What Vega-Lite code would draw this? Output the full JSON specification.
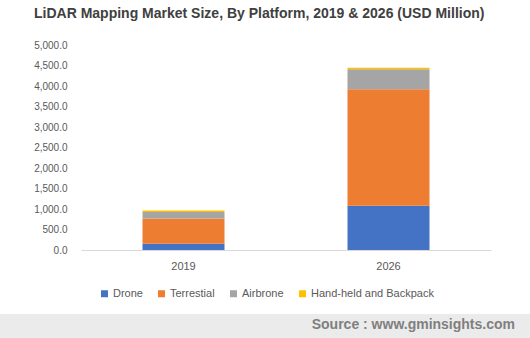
{
  "$schema": "https://vega.github.io/schema/vega-lite/v6.json",
  "background": "white",
  "padding": {"left": 0, "right": 0, "top": 7, "bottom": 0},
  "title": {
    "text": "LiDAR Mapping Market Size, By Platform, 2019 & 2026 (USD Million)",
    "anchor": "start",
    "dx": 34,
    "offset": 19,
    "font": "Liberation Sans",
    "fontSize": 14,
    "fontWeight": "bold",
    "color": "#404040"
  },
  "spacing": 15,
  "vconcat": [
    {
      "bounds": "flush",
      "spacing": 0,
      "resolve": {"scale": {"color": "independent"}, "legend": {"color": "independent"}},
      "hconcat": [
        {
          "width": 81,
          "height": 205,
          "data": {"values": []},
          "mark": "point"
        },
        {
          "width": 410,
          "height": 205,
          "data": {
            "values": [
              {"year": "2019", "platform": "Drone", "rank": 1, "value": 155},
              {"year": "2019", "platform": "Terrestial", "rank": 2, "value": 612},
              {"year": "2019", "platform": "Airbrone", "rank": 3, "value": 162},
              {"year": "2019", "platform": "Hand-held and Backpack", "rank": 4, "value": 32},
              {"year": "2026", "platform": "Drone", "rank": 1, "value": 1080},
              {"year": "2026", "platform": "Terrestial", "rank": 2, "value": 2840},
              {"year": "2026", "platform": "Airbrone", "rank": 3, "value": 490},
              {"year": "2026", "platform": "Hand-held and Backpack", "rank": 4, "value": 34}
            ]
          },
          "mark": {"type": "bar"},
          "encoding": {
            "x": {
              "field": "year",
              "type": "nominal",
              "scale": {"paddingInner": 0.6, "paddingOuter": 0.3},
              "axis": {
                "title": null,
                "labelAngle": 0,
                "ticks": false,
                "domainColor": "#d9d9d9",
                "domainWidth": 1,
                "labelColor": "#595959",
                "labelFont": "Liberation Sans",
                "labelFontSize": 11,
                "labelPadding": 10
              }
            },
            "y": {
              "field": "value",
              "type": "quantitative",
              "stack": "zero",
              "scale": {"domain": [0, 5000], "nice": false},
              "axis": {
                "title": null,
                "values": [0, 500, 1000, 1500, 2000, 2500, 3000, 3500, 4000, 4500, 5000],
                "format": ",.1f",
                "grid": false,
                "domain": false,
                "ticks": false,
                "labelColor": "#595959",
                "labelFont": "Liberation Sans",
                "labelFontSize": 10,
                "labelPadding": 14
              }
            },
            "order": {"field": "rank", "type": "quantitative", "sort": "ascending"},
            "color": {
              "field": "platform",
              "type": "nominal",
              "sort": ["Drone", "Terrestial", "Airbrone", "Hand-held and Backpack"],
              "scale": {
                "domain": ["Drone", "Terrestial", "Airbrone", "Hand-held and Backpack"],
                "range": ["#4472c4", "#ed7d31", "#a5a5a5", "#ffc000"]
              },
              "legend": {
                "title": null,
                "orient": "none",
                "direction": "horizontal",
                "legendX": 18,
                "legendY": 243,
                "padding": 0,
                "symbolType": "square",
                "symbolSize": 49,
                "symbolStrokeWidth": 0,
                "labelOffset": 3,
                "columnPadding": 13,
                "labelFont": "Liberation Sans",
                "labelFontSize": 11,
                "labelColor": "#595959"
              }
            }
          }
        }
      ]
    },
    {
      "width": 530,
      "height": 26,
      "view": {"fill": "#ebebeb", "stroke": null},
      "title": {
        "text": "Source : www.gminsights.com",
        "orient": "bottom",
        "anchor": "end",
        "offset": -22,
        "dx": -15,
        "font": "Liberation Sans",
        "fontSize": 14,
        "fontWeight": "bold",
        "color": "#7f7f7f"
      },
      "data": {"values": []},
      "mark": "point"
    }
  ],
  "config": {
    "view": {"stroke": null}
  }
}
